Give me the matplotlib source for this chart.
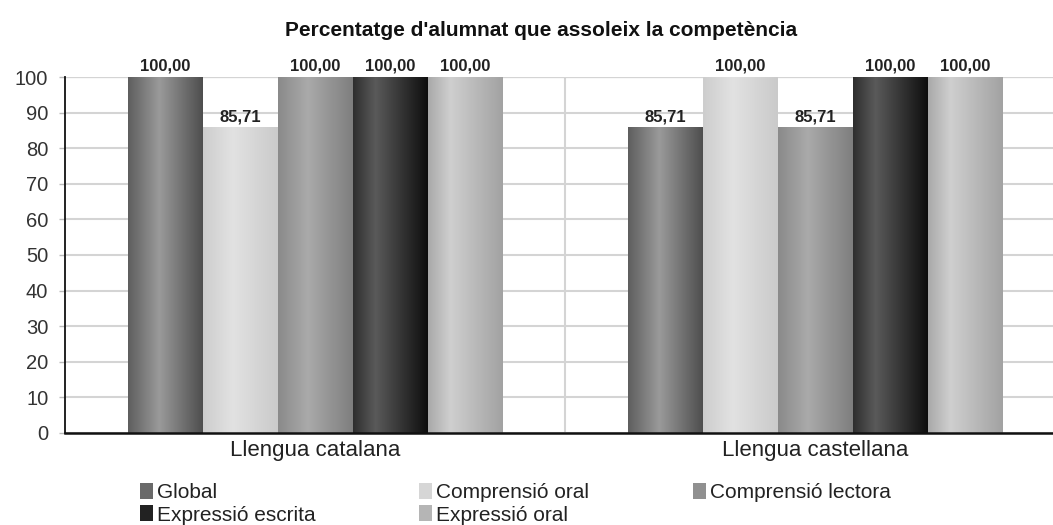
import numpy as np
import matplotlib
matplotlib.use("Agg")
import matplotlib.pyplot as plt
from matplotlib.colors import LinearSegmentedColormap
from matplotlib.patches import Patch

plt.rcParams['font.family'] = ['Liberation Sans', 'DejaVu Sans']

categories = ["Llengua catalana", "Llengua castellana"]
series = ["Global", "Comprensió oral", "Comprensió lectora", "Expressió escrita", "Expressió oral"]
values = {
    "Global": [100.00, 85.71],
    "Comprensió oral": [85.71, 100.00],
    "Comprensió lectora": [100.00, 85.71],
    "Expressió escrita": [100.00, 100.00],
    "Expressió oral": [100.00, 100.00],
}
yticks = [0, 10, 20, 30, 40, 50, 60, 70, 80, 90, 100]
title = "Percentatge d'alumnat que assoleix la competència"

# style: gradient stops (left, highlight, right), highlight position, legend colour
grad = {
    "Global": (["#5e5e5e", "#9a9a9a", "#4e4e4e"], 0.42, "#6a6a6a"),
    "Comprensió oral": (["#cdcdcd", "#e2e2e2", "#cacaca"], 0.40, "#d6d6d6"),
    "Comprensió lectora": (["#8a8a8a", "#aaaaaa", "#7e7e7e"], 0.40, "#909090"),
    "Expressió escrita": (["#2e2e2e", "#5a5a5a", "#0e0e0e"], 0.30, "#222222"),
    "Expressió oral": (["#a9a9a9", "#cfcfcf", "#a2a2a2"], 0.30, "#b5b5b5"),
}

W, H = 1053, 525
fig = plt.figure(figsize=(W / 100, H / 100), dpi=100)
ax = fig.add_axes([65 / W, (H - 433) / H, 1000 / W, (433 - 77) / H])

n = len(series)
bw = 0.15
x = np.arange(len(categories))
handles = []
for i, s in enumerate(series):
    offs = (i - (n - 1) / 2) * bw
    bars = ax.bar(x + offs, values[s], width=bw, facecolor="none", edgecolor="none", zorder=3)
    stops, pos, solid = grad[s]
    cmap = LinearSegmentedColormap.from_list(s, [(0, stops[0]), (pos, stops[1]), (1, stops[2])])
    g = np.linspace(0, 1, 256).reshape(1, -1)
    for b in bars:
        x0, w, h = b.get_x(), b.get_width(), b.get_height()
        ax.imshow(g, extent=[x0, x0 + w, 0, h], aspect="auto", cmap=cmap, zorder=3,
                  interpolation="bicubic")
        ax.text(x0 + w / 2, h + 1.0, f"{h:.2f}".replace(".", ","), ha="center", va="bottom",
                fontsize=12, fontweight="bold", color="#222222", zorder=5)
    handles.append(Patch(facecolor=solid, edgecolor="none", label=s))

ax.set_xlim(-0.5, 1.5)
ax.set_ylim(0, 100)
ax.set_yticks(yticks)
ax.set_yticklabels([str(t) for t in yticks], fontsize=14.5, color="#333333")
ax.set_xticks(x)
ax.set_xticklabels(categories, fontsize=16, color="#222222")
ax.tick_params(axis="x", length=0, pad=5)
ax.tick_params(axis="y", length=4, color="#bbbbbb", width=1, pad=8)
ax.grid(axis="y", color="#d4d4d4", linewidth=1.5, zorder=0)
ax.axvline(0.5, color="#d4d4d4", linewidth=1.5, zorder=0)
ax.axhline(100, color="#a0a0a0", linewidth=1.5, zorder=1)
for sp in ["top", "right"]:
    ax.spines[sp].set_visible(False)
ax.spines["left"].set_color("#111111")
ax.spines["left"].set_linewidth(1.3)
ax.spines["bottom"].set_color("#111111")
ax.spines["bottom"].set_linewidth(1.8)
ax.spines["left"].set_zorder(6)
ax.spines["bottom"].set_zorder(6)

fig.text(541 / W, 1 - 30 / H, title, ha="center", va="center", fontsize=15,
         fontweight="bold", color="#111111")

order = [0, 3, 1, 4, 2]
leg = fig.legend([handles[k] for k in order], [series[k] for k in order], ncol=3,
                 loc="upper left", bbox_to_anchor=(140 / W, 1 - 483 / H), frameon=False,
                 fontsize=15, handlelength=0.6, handleheight=0.8, handletextpad=0.2,
                 labelspacing=0.15, columnspacing=5.0, borderpad=0, borderaxespad=0)
for t in leg.get_texts():
    t.set_color("#222222")

fig.savefig("out.png", dpi=100)
